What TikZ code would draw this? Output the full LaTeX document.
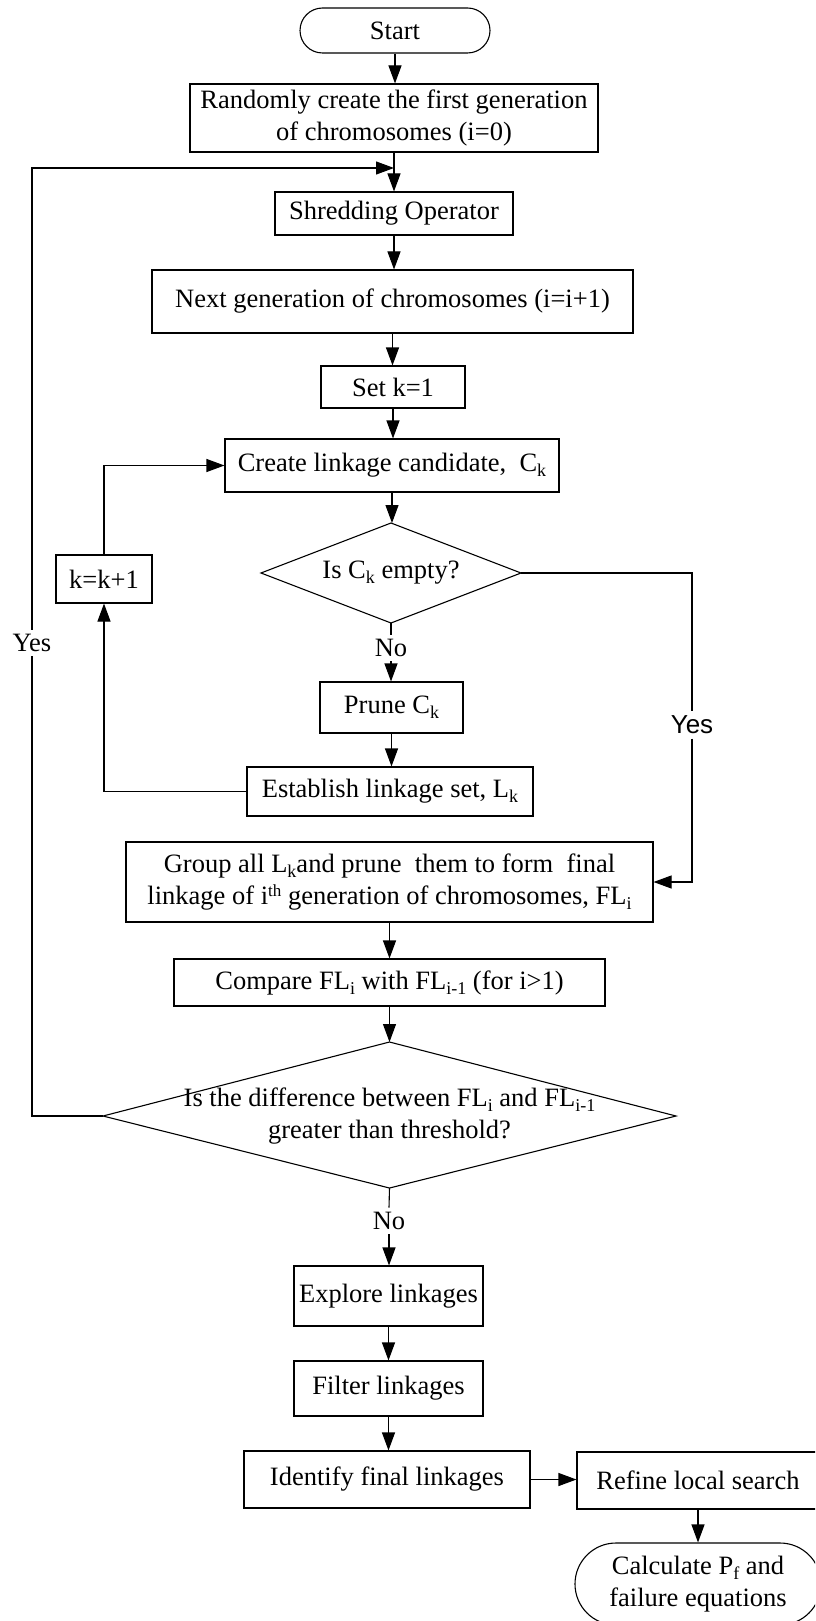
\documentclass[tikz,border=0pt]{standalone}
\usepackage{fontspec}
\setmainfont{Liberation Serif}
\newfontfamily\labelsans{Liberation Sans}
\usetikzlibrary{arrows.meta,calc}

% small lowered / raised indices in text
\newcommand\lsub[1]{\raisebox{-5pt}{\fontsize{18}{18}\selectfont #1}}
\newcommand\hsup[1]{\raisebox{8pt}{\fontsize{17}{17}\selectfont #1}}

\begin{document}
\begin{tikzpicture}[x=1pt,y=-1pt,
  line width=1.1pt,
  font=\fontsize{26.5}{32}\selectfont,
  box/.style={draw, rectangle, inner sep=0pt, align=center},
  term/.style={draw, rectangle, inner sep=0pt, align=center},
  lbl/.style={inner sep=4pt},
  flow/.style={-{Triangle[length=18pt,width=13pt]}}]

% page frame
\fill[white] (0,0) rectangle (815,1621);
\useasboundingbox (0,0) rectangle (815,1621);
\clip (0,0) rectangle (815,1621);

% main column
\node[term, rounded corners=22.5pt, minimum width=190pt, minimum height=45pt] (start) at (395,30.5) {Start};
\node[box, minimum width=408pt, minimum height=68pt] (random) at (394,118)
  {Randomly create the first generation\\of chromosomes (i=0)};
\node[box, minimum width=238pt, minimum height=43pt] (shred) at (394,213.5) {Shredding Operator};
\node[box, minimum width=481pt, minimum height=63pt] (next) at (392.5,301.5)
  {Next generation of chromosomes (i=i+1)};
\node[box, minimum width=144pt, minimum height=42pt] (setk) at (393,387) {Set k=1};
\node[box, minimum width=334pt, minimum height=53pt] (create) at (392,465.5)
  {Create linkage candidate,\ \ C\lsub{k}};

% first decision
\coordinate (d1n) at (391,523);
\coordinate (d1e) at (521,573);
\coordinate (d1s) at (391,623);
\coordinate (d1w) at (261,573);
\draw (d1n) -- (d1e) -- (d1s) -- (d1w) -- cycle;
\node (d1) at (391,573) {Is C\lsub{k} empty?};

\node[lbl] (no1) at (391,648) {No};
\node[box, minimum width=96pt, minimum height=48pt] (kbox) at (104,579) {k=k+1};
\node[box, minimum width=143pt, minimum height=51pt] (prune) at (391.5,707.5) {Prune C\lsub{k}};
\node[box, minimum width=286pt, minimum height=49pt] (estab) at (390,791.5)
  {Establish linkage set, L\lsub{k}};
\node[lbl, font=\labelsans\fontsize{26}{32}\selectfont] (yesR) at (692,725) {Yes};

\node[box, minimum width=527pt, minimum height=80pt] (group) at (389.5,882)
  {Group all L\lsub{k}and prune\ \ them to form\ \ final\\
   linkage of i\hsup{th} generation of chromosomes, FL\lsub{i}};
\node[box, minimum width=431pt, minimum height=47pt] (compare) at (389.5,982.5)
  {Compare FL\lsub{i} with FL\lsub{i-1} (for i>1)};

% second decision
\coordinate (d2n) at (389.5,1042);
\coordinate (d2e) at (676,1116);
\coordinate (d2s) at (389.5,1188);
\coordinate (d2w) at (103,1116);
\draw (d2n) -- (d2e) -- (d2s) -- (d2w) -- cycle;
\node[align=center] (d2) at (389.5,1116)
  {Is the difference between FL\lsub{i} and FL\lsub{i-1}\\greater than threshold?};

\node[lbl] (yesL) at (32,643) {Yes};
\node[lbl] (no2) at (389,1221) {No};

\node[box, minimum width=189pt, minimum height=60pt] (explore) at (388.5,1296) {Explore linkages};
\node[box, minimum width=189pt, minimum height=55pt] (filter) at (388.5,1388.5) {Filter linkages};
\node[box, minimum width=286pt, minimum height=57pt] (identify) at (387,1479.5) {Identify final linkages};
\node[box, minimum width=242pt, minimum height=57pt] (refine) at (698,1480.5) {Refine local search};
\node[term, rounded corners=41pt, minimum width=246pt, minimum height=82pt] (calc) at (698,1584)
  {Calculate P\lsub{f} and\\failure equations};

% loop entry point
\coordinate (join) at (394,168);

% connectors
\draw[flow] (start.south) -- (start.south |- random.north);
\draw[flow] (random.south) -- (random.south |- shred.north);
\draw[flow] (shred.south) -- (shred.south |- next.north);
\draw[flow] (next.south) -- (next.south |- setk.north);
\draw[flow] (setk.south) -- (setk.south |- create.north);
\draw[flow] (create.south) -- (create.south |- d1n);
\draw (d1s) -- (no1.north);
\draw[flow] (no1.south) -- (no1.south |- prune.north);
\draw[flow] (prune.south) -- (prune.south |- estab.north);
\draw[flow] (estab.west) -| (kbox.south);
\draw[flow] (kbox.north) |- (create.west);
\draw (d1e) -| (yesR.north);
\draw[flow] (yesR.south) |- (group.east);
\draw[flow] (group.south) -- (group.south |- compare.north);
\draw[flow] (compare.south) -- (compare.south |- d2n);
\draw (d2w) -| (yesL.south);
\draw[flow] (yesL.north) |- (join);
\draw (d2s) -- (no2.north);
\draw[flow] (no2.south) -- (no2.south |- explore.north);
\draw[flow] (explore.south) -- (explore.south |- filter.north);
\draw[flow] (filter.south) -- (filter.south |- identify.north);
\draw[flow] (identify.east) -- (identify.east -| refine.west);
\draw[flow] (refine.south) -- (refine.south |- calc.north);
\end{tikzpicture}
\end{document}
